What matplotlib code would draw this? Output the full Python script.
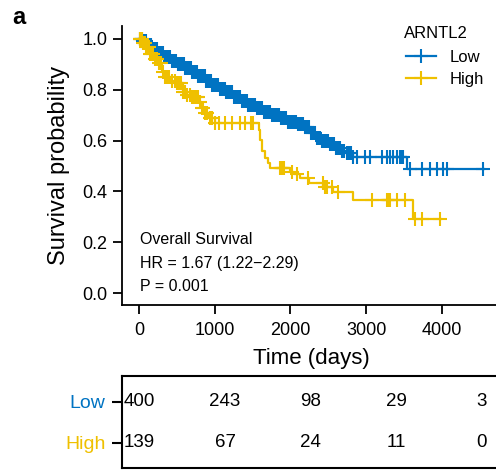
import numpy as np
import matplotlib
matplotlib.use('Agg')
import matplotlib.pyplot as plt
from matplotlib.lines import Line2D

plt.rcParams['font.family'] = ['Liberation Sans', 'DejaVu Sans']

# ---------------- data ----------------
groups = ['Low', 'High']
legend_title = 'ARNTL2'

low_times = [0, 40, 100, 170, 250, 330, 420, 510, 600, 690, 780, 870, 960, 1050, 1140,
             1240, 1340, 1440, 1540, 1640, 1740, 1850, 1960, 2080, 2180, 2260, 2340,
             2420, 2500, 2580, 2660, 2740, 2820, 3540, 4560]
low_surv = [1.0, 0.99, 0.975, 0.96, 0.945, 0.93, 0.915, 0.90, 0.885, 0.87, 0.855, 0.835,
            0.82, 0.805, 0.79, 0.772, 0.757, 0.74, 0.727, 0.714, 0.70, 0.687, 0.675, 0.665,
            0.655, 0.63, 0.61, 0.598, 0.585, 0.572, 0.56, 0.55, 0.535, 0.488, 0.488]
low_censor = [10, 25, 38, 52, 66, 80, 95, 112, 128, 143, 160, 176, 190, 205, 222, 240, 255,
              270, 288, 302, 318, 335, 350, 366, 382, 398, 415, 430, 446, 462, 478, 495, 510,
              526, 542, 560, 575, 590, 606, 622, 640, 655, 670, 688, 703, 720, 736, 752, 768,
              785, 800, 818, 834, 850, 866, 882, 900, 915, 932, 948, 965, 980, 998, 1015,
              1030, 1048, 1064, 1080, 1098, 1115, 1130, 1148, 1165, 1180, 1198, 1215, 1232,
              1250, 1268, 1285, 1302, 1320, 1338, 1355, 1372, 1390, 1408, 1425, 1444, 1462,
              1480, 1500, 1518, 1536, 1555, 1574, 1592, 1610, 1630, 1650, 1670, 1690, 1710,
              1730, 1752, 1775, 1798, 1820, 1845, 1870, 1895, 1920, 1945, 1970, 1995, 2020,
              2045, 2070, 2095, 2120, 2145, 2170, 2195, 2220, 2245, 2270, 2295, 2320, 2345,
              2370, 2395, 2420, 2445, 2470, 2495, 2520, 2545, 2570, 2600, 2630, 2653, 2680,
              2710, 2746, 2775, 2800, 2825, 2878, 2984, 3050, 3208, 3274, 3314, 3353, 3406,
              3446, 3472, 3485, 3578, 3736, 3842, 3934, 4013, 4066, 4541]

high_times = [0, 40, 80, 140, 200, 240, 300, 340, 420, 480, 580, 640, 700, 780, 830, 870,
              930, 1000, 1580, 1600, 1630, 1660, 1700, 1730, 2000, 2040, 2120, 2250, 2430,
              2560, 2830, 3620, 3990]
high_surv = [1.0, 0.985, 0.968, 0.94, 0.92, 0.905, 0.87, 0.85, 0.835, 0.825, 0.79, 0.78,
             0.772, 0.752, 0.73, 0.709, 0.69, 0.669, 0.64, 0.602, 0.56, 0.531, 0.51, 0.492,
             0.478, 0.467, 0.453, 0.433, 0.417, 0.398, 0.366, 0.291, 0.291]
high_censor = [8, 20, 35, 50, 65, 79, 95, 110, 128, 145, 165, 190, 215, 238, 262, 290, 315,
               343, 370, 400, 430, 475, 505, 530, 555, 581, 610, 640, 670, 700, 720, 740,
               760, 779, 805, 830, 850, 871, 900, 940, 970, 1003, 1060, 1135, 1228, 1333,
               1400, 1480, 1505, 1861, 1875, 1888, 1901, 1920, 2020, 2086, 2231, 2429, 2450,
               2482, 2548, 2627, 3076, 3274, 3287, 3300, 3314, 3406, 3512, 3644, 3736, 3974]

risk_times = [0, 1000, 2000, 3000, 4000]
risk_low = [400, 243, 98, 29, 3]
risk_high = [139, 67, 24, 11, 0]

annot_lines = ['Overall Survival', 'HR = 1.67 (1.22\u22122.29)', 'P = 0.001']

BLUE = '#0073C2'
GOLD = '#EFC000'

W, H = 496, 470
fig = plt.figure(figsize=(W / 100, H / 100), dpi=100)

# ---------------- main KM axes ----------------
ax = fig.add_axes([122 / W, 165 / H, 374 / W, 279 / H])
ax.set_xlim(-224, 4713)
ax.set_ylim(-0.047, 1.051)


def step_value(times, surv, t):
    times = np.asarray(times)
    idx = np.searchsorted(times, t, side='right') - 1
    return np.asarray(surv)[idx]


MS, MEW, LW = 10, 1.5, 1.6
for times, surv, cens, col in [(low_times, low_surv, low_censor, BLUE),
                               (high_times, high_surv, high_censor, GOLD)]:
    ax.step(times, surv, where='post', color=col, lw=LW, zorder=3)
    ax.plot(cens, step_value(times, surv, cens), ls='none', marker='+', ms=MS,
            mew=MEW, color=col, zorder=4)

for sp in ['top', 'right']:
    ax.spines[sp].set_visible(False)
for sp in ['left', 'bottom']:
    ax.spines[sp].set_linewidth(1.3)

ax.set_xticks(risk_times)
ax.set_yticks([0.0, 0.2, 0.4, 0.6, 0.8, 1.0])
ax.set_yticklabels(['0.0', '0.2', '0.4', '0.6', '0.8', '1.0'])
ax.tick_params(axis='both', length=6.5, width=1.3, labelsize=13, color='black')
ax.tick_params(axis='y', pad=4)
ax.tick_params(axis='x', pad=6)

ax.set_xlabel('Time (days)', fontsize=16)
ax.xaxis.set_label_coords((311 - 122) / 374, -0.155)
ax.set_ylabel('Survival probability', fontsize=17)
ax.yaxis.set_label_coords(-0.139, 0.5)

for i, line in enumerate(annot_lines):
    ax.text(8, [0.209, 0.118, 0.026][i], line, fontsize=11.5, ha='left', va='center')

# legend: title drawn as text, entries through the legend
fig.text(404 / W, 1 - 34 / H, legend_title, fontsize=12, ha='left', va='center')
handles = [Line2D([], [], color=BLUE, lw=LW, marker='+', ms=MS, mew=MEW),
           Line2D([], [], color=GOLD, lw=LW, marker='+', ms=MS, mew=MEW)]
leg = ax.legend(handles, groups, loc='upper left',
                bbox_to_anchor=(406 / W, 1 - 50 / H), bbox_transform=fig.transFigure,
                frameon=False, fontsize=12, handlelength=1.8,
                handletextpad=0.8, labelspacing=0.4, borderpad=0, borderaxespad=0)

fig.text(12 / W, 1 - 18 / H, 'a', fontsize=17, fontweight='bold', ha='left', va='center')

# ---------------- risk table ----------------
tax = fig.add_axes([122 / W, 2 / H, 374 / W, 92 / H])
tax.set_xlim(-205, 4170)
tax.set_ylim(-0.61, 1.634)
tax.spines['right'].set_visible(False)
for sp in ['left', 'top', 'bottom']:
    tax.spines[sp].set_linewidth(1.5)
tax.set_xticks([])
tax.set_yticks([1, 0])
tax.set_yticklabels(groups, fontsize=14)
for lab, col in zip(tax.get_yticklabels(), [BLUE, GOLD]):
    lab.set_color(col)
tax.tick_params(axis='y', length=7, width=1.5, pad=5)

for t, nl, nh in zip(risk_times, risk_low, risk_high):
    tax.text(t, 1, str(nl), fontsize=13.5, ha='center', va='center')
    tax.text(t, 0, str(nh), fontsize=13.5, ha='center', va='center')

fig.savefig('out.png', dpi=100)
